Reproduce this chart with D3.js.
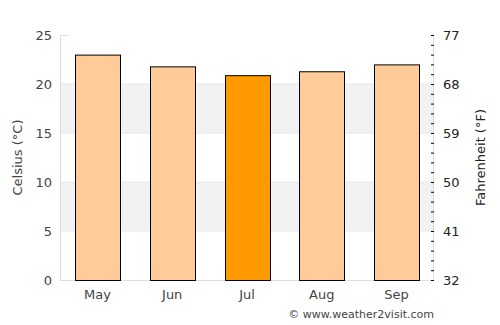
<!DOCTYPE html>
<html>
<head>
<meta charset="utf-8">
<script src="https://cdn.jsdelivr.net/npm/d3@7"></script>
<style>
  body { margin: 0; background: #fff; }
  svg text { font-family: "DejaVu Sans", sans-serif; fill: #444; }
</style>
</head>
<body>
<div id="chart"></div>
<script>
const months = ["May", "Jun", "Jul", "Aug", "Sep"];
const celsius = [23.0, 21.8, 20.9, 21.3, 22.0];
const highlight = ["Jul"];
const cTicks = [0, 5, 10, 15, 20, 25];
const fTicks = [32, 41, 50, 59, 68, 77];

const W = 500, H = 325;
const margin = { top: 35, right: 66, bottom: 45, left: 60 };
const width = W - margin.left - margin.right;
const height = H - margin.top - margin.bottom;

const svg = d3.select("#chart").append("svg")
    .attr("width", W)
    .attr("height", H);

const g = svg.append("g")
    .attr("transform", "translate(" + margin.left + "," + margin.top + ")");

const x = d3.scaleBand().domain(months).range([0, width]).paddingInner(0.4).paddingOuter(0.2);
const y = d3.scaleLinear().domain([0, 25]).range([height, 0]);
const yF = d3.scaleLinear().domain([32, 77]).range([height, 0]);

// alternating bands
[[5, 10], [15, 20]].forEach(b => {
    g.append("rect")
        .attr("x", 0)
        .attr("y", y(b[1]))
        .attr("width", width)
        .attr("height", y(b[0]) - y(b[1]))
        .attr("fill", "#f2f2f2");
});

// grid lines
g.selectAll(".grid")
    .data(cTicks.slice(1, -1))
    .enter().append("line")
    .attr("x1", 0).attr("x2", width)
    .attr("y1", d => y(d)).attr("y2", d => y(d))
    .attr("stroke", "#e6e6e6");

// frame
g.append("path")
    .attr("d", `M0.5,0V${height + 0.5}H${width - 0.5}V0`)
    .attr("fill", "none")
    .attr("stroke", "#dddddd");
g.append("line").attr("x1", 0).attr("x2", 9).attr("y1", 0.5).attr("y2", 0.5).attr("stroke", "#dddddd");

// bars
g.selectAll(".bar")
    .data(months)
    .enter().append("rect")
    .attr("class", "bar")
    .attr("x", d => Math.round(x(d)) + 0.5)
    .attr("y", (d, i) => y(celsius[i]) + 0.5)
    .attr("width", Math.round(x.bandwidth()))
    .attr("height", (d, i) => height - y(celsius[i]))
    .attr("fill", d => highlight.includes(d) ? "#ff9900" : "#ffcc99")
    .attr("stroke", "#000")
    .attr("stroke-width", 1);

// left axis
const left = g.append("g")
    .call(d3.axisLeft(y).tickValues(cTicks).tickSize(0).tickPadding(8));
left.select(".domain").remove();
left.selectAll("text").style("font-size", "13px").style("fill", "#444");

// right axis
const minor = d3.range(0, 26).map(c => 32 + c * 1.8);
const rightMinor = g.append("g")
    .attr("transform", "translate(" + width + ",0)")
    .call(d3.axisLeft(yF).tickValues(minor).tickSize(3).tickFormat(""));
rightMinor.select(".domain").remove();
rightMinor.selectAll("line").attr("stroke", "#000");

const right = g.append("g")
    .attr("transform", "translate(" + width + ",0)")
    .call(d3.axisRight(yF).tickValues(fTicks).tickSize(0).tickPadding(9));
right.select(".domain").remove();
right.selectAll("text").style("font-size", "13px").style("fill", "#222");

// bottom axis
const bottom = g.append("g")
    .attr("transform", "translate(0," + height + ")")
    .call(d3.axisBottom(x).tickSize(0).tickPadding(10));
bottom.select(".domain").remove();
bottom.selectAll("text").style("font-size", "13px").style("fill", "#444");

// axis titles
svg.append("text")
    .attr("transform", "translate(22," + (margin.top + height / 2) + ") rotate(-90)")
    .attr("text-anchor", "middle")
    .style("font-size", "13px")
    .text("Celsius (°C)");

svg.append("text")
    .attr("transform", "translate(485," + (margin.top + height / 2) + ") rotate(-90)")
    .attr("text-anchor", "middle")
    .style("font-size", "13px")
    .style("fill", "#222")
    .text("Fahrenheit (°F)");

svg.append("text")
    .attr("x", 434)
    .attr("y", 318)
    .attr("text-anchor", "end")
    .style("font-size", "11px")
    .style("fill", "#444")
    .text("© www.weather2visit.com");
</script>
</body>
</html>
